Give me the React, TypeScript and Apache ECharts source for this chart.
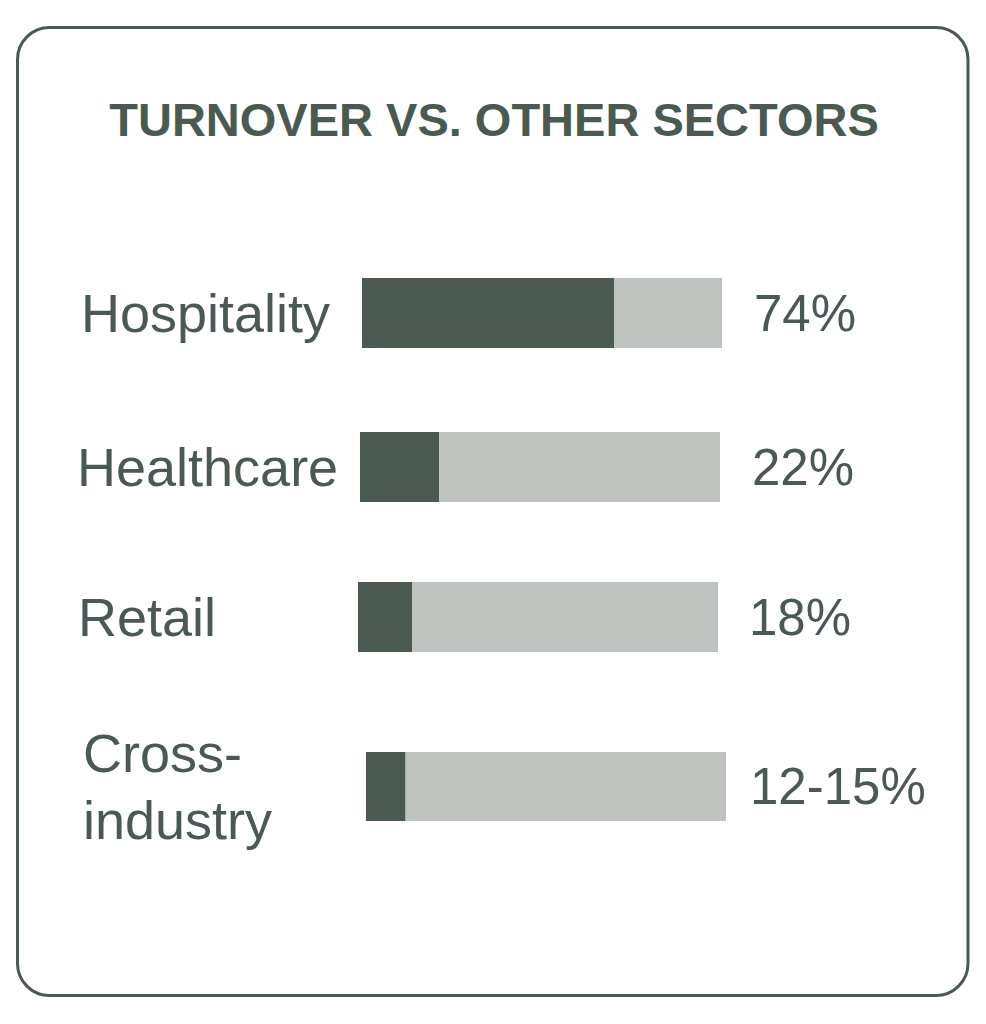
import React, { useEffect, useRef } from "react";
import * as echarts from "echarts";

const categories = ["Hospitality", "Healthcare", "Retail", "Cross-\nindustry"];
const darkShare = [70, 22, 15, 11];
const valueLabels = ["74%", "22%", "18%", "12-15%"];
const axisMax = 100;

const DARK = "#4a5a50";
const LIGHT = "#bec3bf";
const FONT = "'Liberation Sans', Arial, Helvetica, sans-serif";

// layout per row (positions only)
const rowLayout = [
  { left: 362, top: 278, width: 360, height: 70, labelX: 81, catPad: [0, 0, 6, 0], valDist: 32, valPad: [0, 0, 4, 0] },
  { left: 360, top: 432, width: 360, height: 70, labelX: 77, catPad: [0, 0, 2, 0], valDist: 32, valPad: [0, 0, 2, 0] },
  { left: 358, top: 582, width: 360, height: 70, labelX: 78, catPad: [0, 0, 14, 0], valDist: 31, valPad: [6, 0, 0, 0] },
  { left: 366, top: 752, width: 360, height: 69, labelX: 83, catPad: [6, 0, 0, 0], valDist: 24, valPad: [0, 0, 3, 0] },
];

export default function App() {
  const ref = useRef<HTMLDivElement>(null);
  useEffect(() => {
    document.body.style.margin = "0";
    const chart = echarts.init(ref.current!, undefined, { renderer: "svg" });
    const grids: any[] = [];
    const xAxes: any[] = [];
    const yAxes: any[] = [];
    const series: any[] = [];
    categories.forEach((cat, i) => {
      const L = rowLayout[i];
      grids.push({ left: L.left, top: L.top, width: L.width, height: L.height, containLabel: false });
      xAxes.push({
        type: "value", gridIndex: i, min: 0, max: axisMax, show: false,
      });
      yAxes.push({
        type: "category", gridIndex: i, data: [cat],
        axisLine: { show: false }, axisTick: { show: false }, splitLine: { show: false },
        axisLabel: {
          show: true, align: "left", margin: L.left - L.labelX,
          color: DARK, fontFamily: FONT, fontSize: 54, lineHeight: 67,
          verticalAlign: "middle", padding: L.catPad,
        },
      });
      series.push({
        type: "bar", xAxisIndex: i, yAxisIndex: i, stack: "s" + i,
        data: [darkShare[i]], barWidth: L.height, silent: true,
        itemStyle: { color: DARK },
      });
      series.push({
        type: "bar", xAxisIndex: i, yAxisIndex: i, stack: "s" + i,
        data: [axisMax - darkShare[i]], barWidth: L.height, silent: true,
        itemStyle: { color: LIGHT },
        label: {
          show: true, position: "right", distance: L.valDist,
          formatter: () => valueLabels[i],
          color: DARK, fontFamily: FONT, fontSize: 51, padding: L.valPad,
        },
      });
    });
    chart.setOption({
      animation: false,
      backgroundColor: "#ffffff",
      grid: grids,
      xAxis: xAxes,
      yAxis: yAxes,
      series,
      graphic: [
        {
          type: "rect",
          shape: { x: 17.5, y: 27.5, width: 950.5, height: 968, r: 32 },
          style: { fill: "none", stroke: DARK, lineWidth: 3 },
        },
        {
          type: "text",
          x: 494, y: 119,
          style: {
            text: "TURNOVER VS. OTHER SECTORS",
            fill: DARK, font: `bold 47px ${FONT}`,
            textAlign: "center", textVerticalAlign: "middle",
          },
        },
      ],
    });
    return () => chart.dispose();
  }, []);
  return <div ref={ref} style={{ width: 986, height: 1024 }} />;
}
